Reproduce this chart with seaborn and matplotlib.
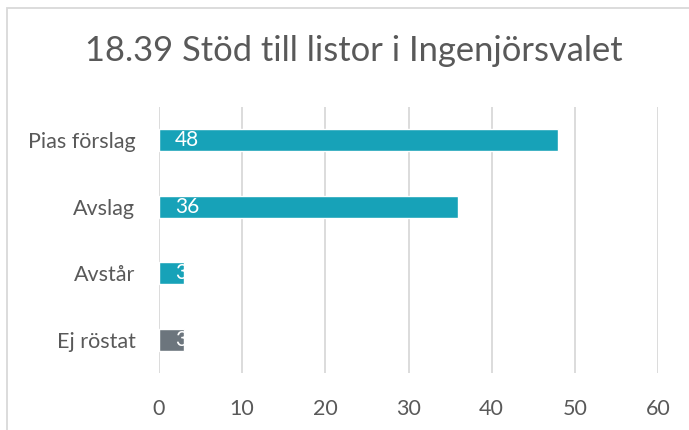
import matplotlib
matplotlib.use("Agg")
import matplotlib.pyplot as plt
import seaborn as sns
import pandas as pd
from matplotlib.patches import Rectangle

categories = ["Pias förslag", "Avslag", "Avstår", "Ej röstat"]
values = [48, 36, 3, 3]
bar_colors = ["#17A2B8", "#17A2B8", "#17A2B8", "#6C757D"]
x_ticks = [0, 10, 20, 30, 40, 50, 60]
title = "18.39 Stöd till listor i Ingenjörsvalet"

sns.set_theme(style="white")
plt.rcParams["font.family"] = ["Lato", "DejaVu Sans"]
text_color = "#595959"

df = pd.DataFrame({"cat": categories, "val": values})

fig = plt.figure(figsize=(6.89, 4.30), dpi=100)
ax = fig.add_axes([159 / 689, 1 - 373 / 430, 499 / 689, 266 / 430])

sns.barplot(data=df, y="cat", x="val", hue="cat", palette=dict(zip(categories, bar_colors)),
            orient="h", width=0.33, legend=False, ax=ax, saturation=1)

ax.set_xlim(0, 60)
ax.set_ylim(3.5, -0.5)
ax.set_xticks(x_ticks)
ax.set_xlabel("")
ax.set_ylabel("")
ax.grid(axis="x", color="#D9D9D9", linewidth=1.3)
ax.set_axisbelow(True)
for s in ax.spines.values():
    s.set_visible(False)
ax.tick_params(axis="x", length=0, pad=19, labelsize=15.5, labelcolor=text_color)
ax.tick_params(axis="y", length=0, pad=17, labelsize=15.5, labelcolor=text_color)

for i, v in enumerate(values):
    ax.text(1.95, i, str(v), color="white", fontsize=15, va="center", ha="left", clip_on=True)

fig.text(354 / 689, 1 - 51 / 430, title, ha="center", va="center", fontsize=24.8, color=text_color)

fig.patches.append(Rectangle((7 / 689, -0.1), 1.2, 1 - 8 / 430 + 0.1, transform=fig.transFigure,
                             fill=False, edgecolor="#D9D9D9", linewidth=1.3))

fig.savefig("out.png", dpi=100)
